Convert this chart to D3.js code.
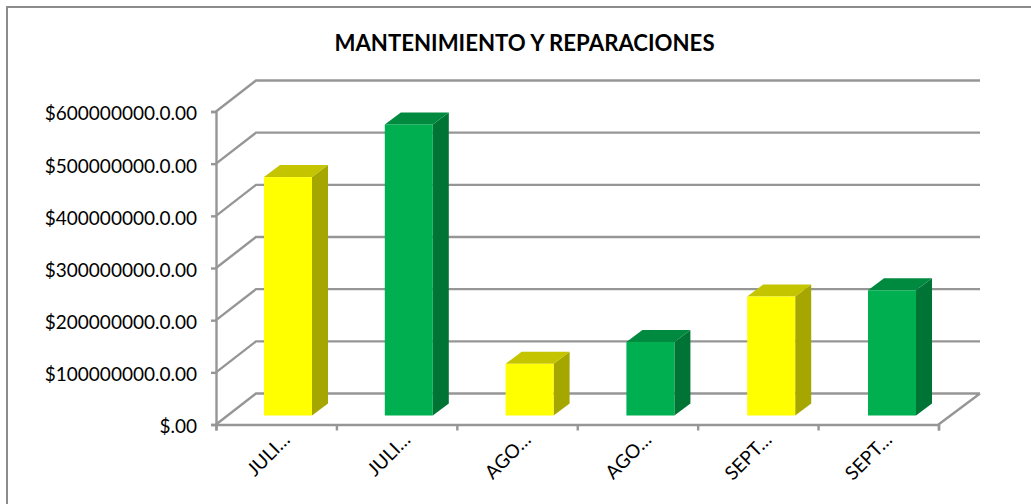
<!DOCTYPE html>
<html><head><meta charset="utf-8">
<script src="https://cdn.jsdelivr.net/npm/d3@7/dist/d3.min.js"></script>
<style>html,body{margin:0;padding:0;background:#fff}svg{display:block}text{font-family:Lato,"Open Sans",sans-serif;fill:#000}</style>
</head><body><svg id="c" width="1031" height="504"></svg>
<script>
const categories = ["JULI…","JULI…","AGO…","AGO…","SEPT…","SEPT…"];
const values = [457000000,558000000,99000000,141000000,228000000,240000000];
const frontColors = ["#ffff00","#00b050","#ffff00","#00b050","#ffff00","#00b050"];
const topColors = ["#c4c400","#008a3f","#c4c400","#008a3f","#c4c400","#008a3f"];
const sideColors = ["#a6a600","#007434","#a6a600","#007434","#a6a600","#007434"];
const yTicks = [0,100000000,200000000,300000000,400000000,500000000,600000000];
const title = "MANTENIMIENTO Y REPARACIONES";

const svg = d3.select("#c");
const grid = "#969696";
const y = d3.scaleLinear().domain([0,600000000]).range([424.5,111.5]);
const x = d3.scaleBand().domain(d3.range(categories.length)).range([216,938.5]);
const barX = d3.scalePoint().domain(d3.range(categories.length)).range([264,868]);
const depthX = 40, depthY = -31;
const barDY = -9;
const barDepthX = 16, barDepthY = -12;

svg.append("rect").attr("x",7).attr("y",7).attr("width",1040).attr("height",520)
  .attr("fill","#fff").attr("stroke","#8c8c8c").attr("stroke-width",2);

svg.append("text").attr("x",524.5).attr("y",50.5).attr("text-anchor","middle")
  .style("font-weight",700).style("font-size","22.2px").text(title);

const p = d3.path();
yTicks.forEach(t=>{
  const Y = y(t);
  p.moveTo(216,Y); p.lineTo(216+depthX,Y+depthY);
  p.lineTo(980,Y+depthY);
});
p.moveTo(938.5,y(0)); p.lineTo(980,y(0)+depthY);
svg.append("path").attr("d",p.toString()).attr("fill","none").attr("stroke",grid).attr("stroke-width",2.4);

const yAxis = d3.axisLeft(y).tickValues(yTicks).tickSize(5).tickPadding(14)
  .tickFormat(d=> "$" + (d===0 ? "" : d3.format("d")(d)+".0") + ".00");
const gy = svg.append("g").attr("transform","translate(216,0)").call(yAxis);
gy.selectAll("path,line").attr("stroke",grid).attr("stroke-width",2.4);
gy.selectAll("text").style("font-size","19px").style("font-family","Lato,sans-serif").attr("dy","0.44em");

const xTickPos = d3.range(categories.length+1).map(i=>216+i*x.step());
const xLine = d3.scaleLinear().domain([216,938.5]).range([216,938.5]);
const xAxis = d3.axisBottom(xLine).tickValues(xTickPos).tickSize(6).tickFormat("");
const gx = svg.append("g").attr("transform",`translate(0,${y(0)})`).call(xAxis);
gx.selectAll("path,line").attr("stroke",grid).attr("stroke-width",2.4);

const barW = 48;
const g = svg.append("g").selectAll("g").data(values).join("g");
g.each(function(v,i){
  const s = d3.select(this);
  const x0 = barX(i), x1 = x0+barW;
  const yb = y(0)+barDY, yt = y(v)+barDY;
  const poly = pts=>pts.map(q=>q.join(",")).join(" ");
  s.append("polygon").attr("fill",sideColors[i])
    .attr("points",poly([[x1,yt],[x1+barDepthX,yt+barDepthY],[x1+barDepthX,yb+barDepthY],[x1,yb]]));
  s.append("polygon").attr("fill",topColors[i])
    .attr("points",poly([[x0,yt],[x0+barDepthX,yt+barDepthY],[x1+barDepthX,yt+barDepthY],[x1,yt]]));
  s.append("rect").attr("x",x0).attr("y",yt).attr("width",barW).attr("height",yb-yt).attr("fill",frontColors[i]);
});

svg.append("g").selectAll("text").data(categories).join("text")
  .attr("text-anchor","end").style("font-size","19px")
  .attr("transform",(d,i)=>`translate(${x(i)+x.bandwidth()/2+15},${441}) rotate(-45)`)
  .text(d=>d);
</script></body></html>
